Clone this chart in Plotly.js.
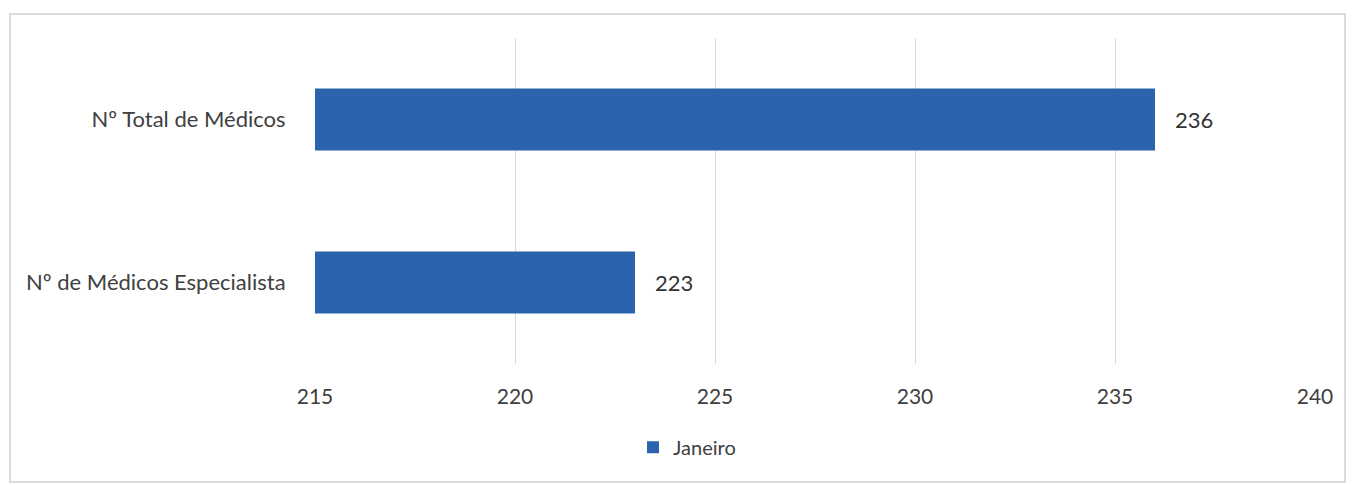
<!DOCTYPE html>
<html>
<head>
<meta charset="utf-8">
<script src="https://cdn.plot.ly/plotly-3.0.1.min.js"></script>
<style>
html,body{margin:0;padding:0;background:#fff;}
#chart{width:1352px;height:485px;}
</style>
</head>
<body>
<div id="chart"></div>
<script>
const categories = ["Nº Total de Médicos", "Nº de Médicos Especialista"];
const janeiro = [236, 223];
const seriesName = "Janeiro";
const xTicks = [215, 220, 225, 230, 235, 240];

const trace = {
  type: "bar",
  orientation: "h",
  y: categories,
  x: janeiro,
  name: seriesName,
  marker: {color: "#2c63ad"},
  texttemplate: "   %{x}",
  textposition: "outside",
  cliponaxis: false,
  textfont: {family: "Lato, 'Open Sans', sans-serif", size: 22, color: "#333333"},
  hoverinfo: "none"
};

const layout = {
  width: 1352,
  height: 485,
  margin: {l: 315, r: 37, t: 38, b: 121},
  paper_bgcolor: "#ffffff",
  plot_bgcolor: "#ffffff",
  font: {family: "Lato, 'Open Sans', sans-serif", size: 21, color: "#404040"},
  bargap: 0.62,
  showlegend: true,
  legend: {
    orientation: "h",
    x: 0.372, xanchor: "center",
    y: -0.255, yanchor: "middle",
    font: {size: 20, color: "#404040"},
    itemwidth: 30
  },
  xaxis: {
    range: [215, 240],
    tickvals: xTicks,
    ticktext: xTicks.map(String),
    showgrid: true,
    gridcolor: "#d9d9d9",
    gridwidth: 1,
    zeroline: false,
    showline: false,
    ticks: "outside",
    ticklen: 14,
    tickcolor: "rgba(0,0,0,0)",
    tickfont: {size: 21, color: "#404040"}
  },
  yaxis: {
    type: "category",
    autorange: "reversed",
    showgrid: false,
    zeroline: false,
    showline: false,
    ticks: "outside",
    ticklen: 24,
    tickcolor: "rgba(0,0,0,0)",
    tickfont: {size: 22, color: "#404040"}
  },
  shapes: [{
    type: "rect",
    xref: "paper", yref: "paper",
    x0: -0.305, x1: 1.03,
    y0: -0.362, y1: 1.074,
    line: {color: "#d0d0d0", width: 1.5},
    fillcolor: "rgba(0,0,0,0)",
    layer: "below"
  }]
};

Plotly.newPlot("chart", [trace], layout, {displayModeBar: false, staticPlot: true});
</script>
</body>
</html>
